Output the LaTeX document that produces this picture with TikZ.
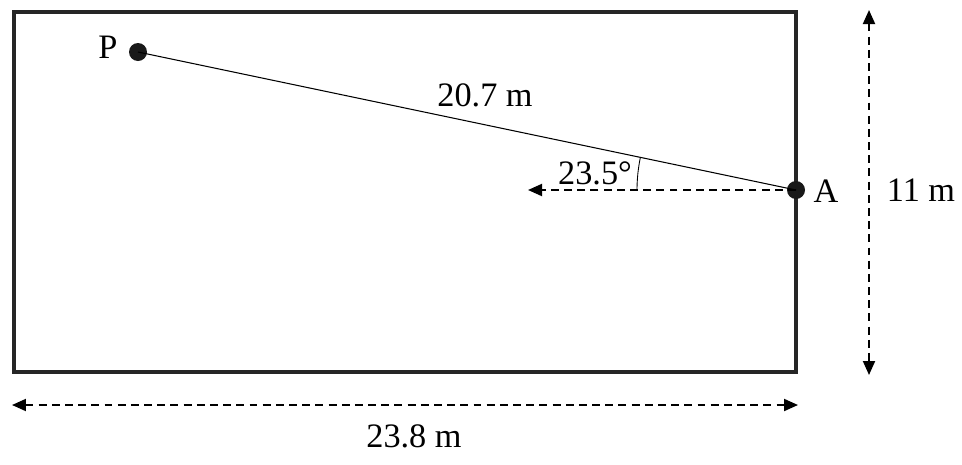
\documentclass[tikz,border=0pt]{standalone}
\usepackage{fontspec}
\setmainfont{Liberation Serif}
\usetikzlibrary{arrows.meta}
\begin{document}
\begin{tikzpicture}[x=0.02cm,y=-0.02cm,
  lbl/.style={font=\fontsize{19.5pt}{22pt}\selectfont, inner sep=0pt},
  dot/.style={circle, fill=black!90, inner sep=0pt, minimum size=0.36cm},
  dimline/.style={line width=1.1pt, dash pattern=on 4.5pt off 3pt, -{Triangle[length=0.28cm,width=0.24cm]}},
  dimboth/.style={line width=1.1pt, dash pattern=on 4.5pt off 3pt, {Triangle[length=0.28cm,width=0.24cm]}-{Triangle[length=0.28cm,width=0.24cm]}}]
\useasboundingbox (0,0) rectangle (962,464);
\draw[line width=1.8pt, black!85] (14,12) rectangle (796,372);
\node[dot] (P) at (138,52) {};
\node[dot] (A) at (796,190) {};
\coordinate (E) at (528,190);
\draw[line width=0.6pt] (P.center) -- (A.center);
\draw[dimline] (A.center) -- (E);
\draw[line width=0.5pt] (637,190) arc[start angle=180, end angle=191.84, radius=159];
\node[lbl] (lP) at (108,47) {P};
\node[lbl] (lA) at (826,191) {A};
\node[lbl] (ld) at (485,95) {20.7 m};
\node[lbl] (la) at (595,173) {23.5°};
\coordinate (V1) at (869,10);
\coordinate (V2) at (869,375);
\draw[dimboth] (V1) -- (V2);
\node[lbl] (lh) at (921,190) {11 m};
\coordinate (H1) at (12,405);
\coordinate (H2) at (798,405);
\draw[dimboth] (H1) -- (H2);
\node[lbl] (lw) at (414,436) {23.8 m};
\end{tikzpicture}
\end{document}
